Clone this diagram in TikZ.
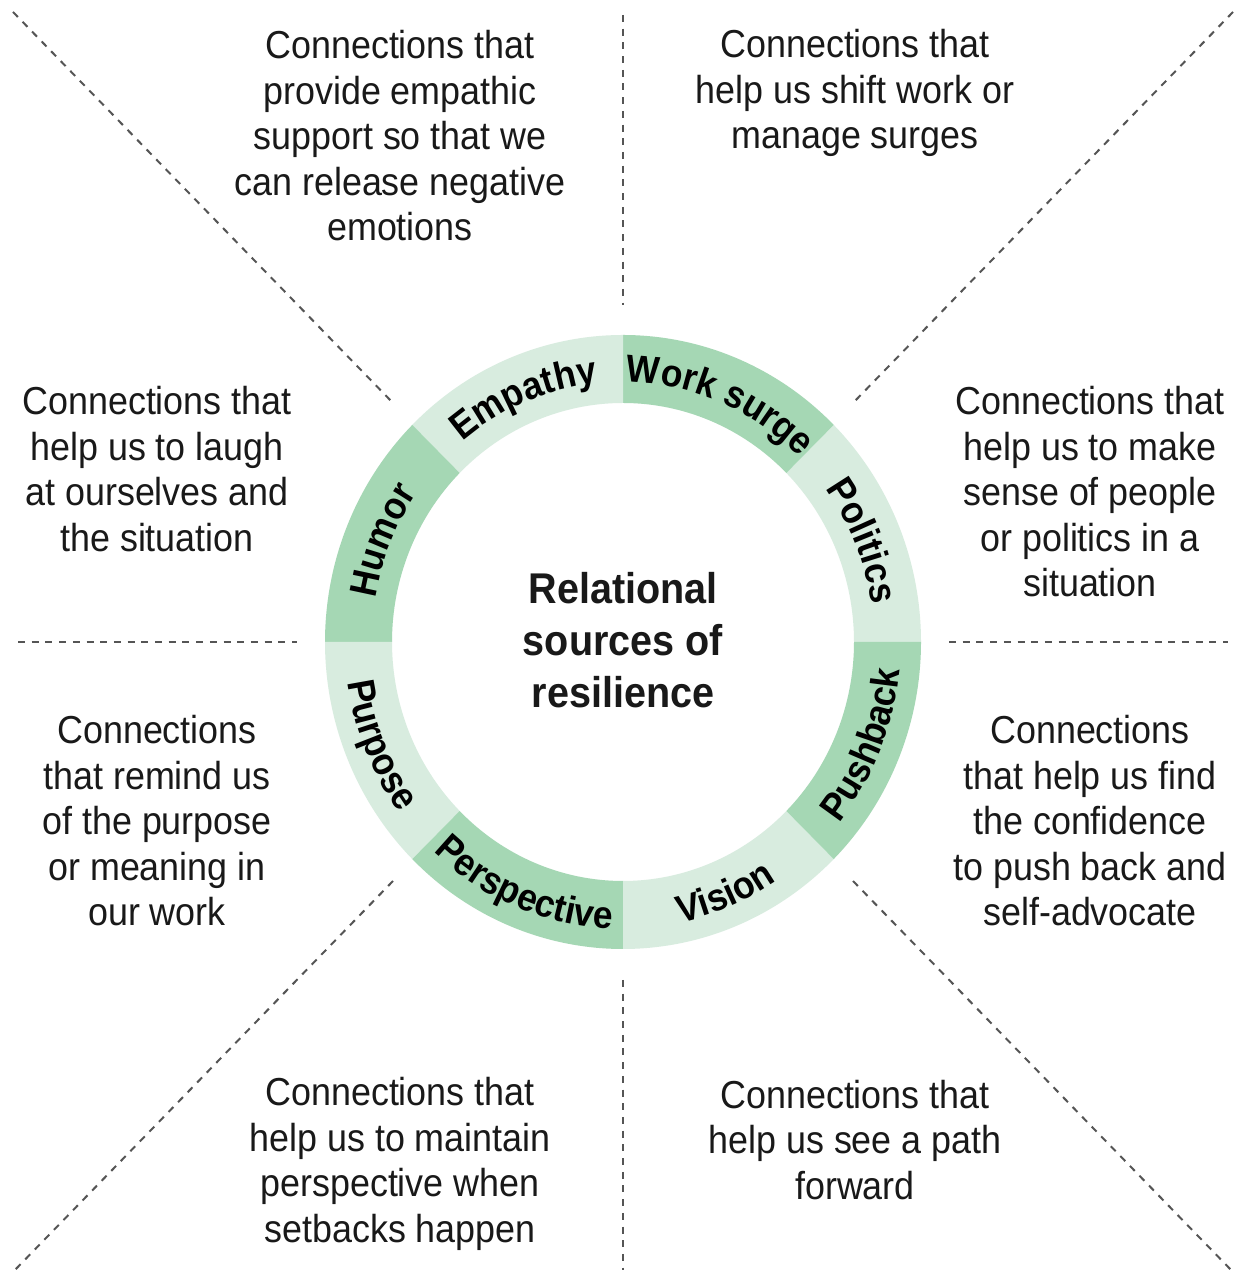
\documentclass[tikz,border=0pt]{standalone}
\usepackage{fontspec}
\setmainfont{Liberation Sans}[FakeStretch=0.92]
\usetikzlibrary{decorations.text}
\definecolor{dkgreen}{RGB}{165,215,180}
\definecolor{ltgreen}{RGB}{216,236,223}
\definecolor{dashgray}{RGB}{85,85,85}
\newcommand{\lblfont}{\bfseries\fontsize{38.5}{40}\selectfont}
\tikzset{
  body/.style={font=\fontsize{39}{45.5}\selectfont, align=center, inner sep=0pt, text=black!90},
  centre/.style={font=\bfseries\fontsize{43}{52}\selectfont, align=center, inner sep=0pt, text=black!90},
  sep/.style={draw=dashgray, line width=2pt, dash pattern=on 7pt off 6.7pt},
  seglbl/.style={decorate, decoration={text along path, text align=center, text={|\lblfont|#1}}}
}
\begin{document}
\begin{tikzpicture}[x=1pt,y=1pt]
\fill[white] (0,0) rectangle (1243,1276);
\useasboundingbox (0,0) rectangle (1243,1276);

% separators
\draw[sep] (623,1261) -- (623,971);
\draw[sep] (623,296) -- (623,6);
\draw[sep] (18,634) -- (297,634);
\draw[sep] (949,634) -- (1228,634);
\draw[sep] (13,1264) -- (393,873);
\draw[sep] (1233,1264) -- (853,873);
\draw[sep] (393,395) -- (13,4);
\draw[sep] (853,395) -- (1233,4);

% ring
\begin{scope}[shift={(623,634)}]
\foreach \a/\c in {0/ltgreen,45/dkgreen,90/ltgreen,135/dkgreen,180/ltgreen,225/dkgreen,270/ltgreen,315/dkgreen}{
  \pgfmathsetmacro{\b}{\a+45}
  \fill[\c] (\a:298pt and 307pt) arc[start angle=\a, end angle=\b, x radius=298pt, y radius=307pt]
     -- (\b:231pt and 239pt) arc[start angle=\b, end angle=\a, x radius=231pt, y radius=239pt] -- cycle;
}
% labels, upper half (clockwise, tops outward)
\path[seglbl=Humor] (197.5:251pt and 260pt) arc[start angle=197.5, end angle=117.5, x radius=251pt, y radius=260pt];
\path[seglbl=Empathy] (152.5:251pt and 260pt) arc[start angle=152.5, end angle=72.5, x radius=251pt, y radius=260pt];
\path[seglbl=Work surge] (107.5:251pt and 260pt) arc[start angle=107.5, end angle=27.5, x radius=251pt, y radius=260pt];
\path[seglbl=Politics] (62.5:251pt and 260pt) arc[start angle=62.5, end angle=-17.5, x radius=251pt, y radius=260pt];
% labels, lower half (counterclockwise, tops inward)
\path[seglbl=Pushback] (-62.5:278pt and 287pt) arc[start angle=-62.5, end angle=17.5, x radius=278pt, y radius=287pt];
\path[seglbl=Vision] (-107.5:278pt and 287pt) arc[start angle=-107.5, end angle=-27.5, x radius=278pt, y radius=287pt];
\path[seglbl=Perspective] (-152.5:278pt and 287pt) arc[start angle=-152.5, end angle=-72.5, x radius=278pt, y radius=287pt];
\path[seglbl=Purpose] (162.5:278pt and 287pt) arc[start angle=162.5, end angle=242.5, x radius=278pt, y radius=287pt];
\end{scope}

\node[centre] (title) at (623,636) {Relational\\sources of\\resilience};

\node[body] (empathy) at (400,1140) {Connections that\\provide empathic\\support so that we\\can release negative\\emotions};
\node[body] (work) at (855,1183) {Connections that\\help us shift work or\\manage surges};
\node[body] (humor) at (157,807) {Connections that\\help us to laugh\\at ourselves and\\the situation};
\node[body] (politics) at (1090,784) {Connections that\\help us to make\\sense of people\\or politics in a\\situation};
\node[body] (purpose) at (157,455) {Connections\\that remind us\\of the purpose\\or meaning in\\our work};
\node[body] (pushback) at (1090,455) {Connections\\that help us find\\the confidence\\to push back and\\self-advocate};
\node[body] (perspective) at (400,112) {Connections that\\help us to maintain\\perspective when\\setbacks happen};
\node[body] (vision) at (855,136) {Connections that\\help us see a path\\forward};
\end{tikzpicture}
\end{document}
